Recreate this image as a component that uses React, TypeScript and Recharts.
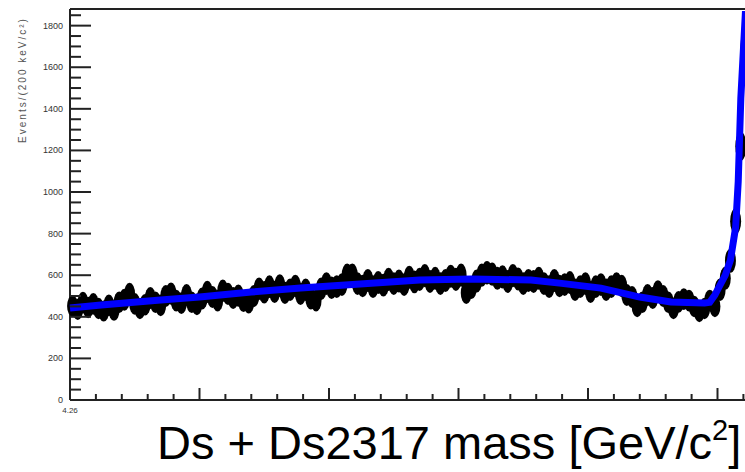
import { ComposedChart, Scatter, XAxis, YAxis, ReferenceLine } from "recharts";

// invariant mass histogram, 0.2 MeV bins starting at 4.26 GeV
const MASS_START = 4.26;
const BIN_WIDTH = 0.0002;

const COUNTS = [
  452, 436, 468, 445, 462, 440, 428, 455, 432, 470,
  482, 510, 462, 440, 458, 490, 470, 455, 500, 512,
  478, 466, 505, 470, 460, 488, 520, 495, 478, 525,
  510, 490, 502, 475, 468, 500, 535, 518, 545, 520,
  550, 515, 530, 548, 510, 530, 488, 478, 535, 560,
  540, 545, 555, 600, 600, 560, 548, 575, 545, 565,
  552, 580, 560, 572, 555, 590, 568, 580, 598, 570,
  585, 560, 575, 595, 580, 600, 515, 540, 572, 600,
  612, 605, 585, 592, 570, 598, 582, 560, 575, 570,
  585, 560, 545, 575, 548, 555, 565, 530, 545, 560,
  520, 545, 555, 530, 545, 560, 548, 505, 495, 450,
  470, 505, 490, 522, 500, 470, 440, 472, 485, 478,
  450, 425, 440, 478, 450, 530, 585, 670, 860, 1220, 1700,
];

// fitted background + threshold curve
const FIT_MASS = [
  4.26, 4.2612, 4.2635, 4.265, 4.267, 4.2689, 4.2712, 4.2735, 4.2755, 4.2778,
  4.2789, 4.2805, 4.282, 4.2832, 4.2845, 4.2847, 4.2849, 4.2851, 4.2853, 4.2855,
  4.2857, 4.2858, 4.2859, 4.28608,
];
const FIT_COUNT = [
  442, 457, 481, 495, 519, 538, 558, 577, 582, 577,
  562, 538, 495, 471, 466, 470, 505, 553, 600, 673,
  830, 1050, 1450, 1870,
];

const X_TICKS = Array.from({ length: 31 }, (_, i) => +(4.26 + i * 0.001).toFixed(3));
const Y_TICKS = Array.from({ length: 38 }, (_, i) => i * 50);

const Y_MAX = 1880;
const CHART_H = 472;
const TOP = 9;
const X_AXIS_H = 72;
// pixels per event on the y axis, used to size the error blobs
const PX_PER_EVENT = (CHART_H - TOP - X_AXIS_H) / Y_MAX;

const points = COUNTS.map((n, i) => ({
  mass: +(MASS_START + BIN_WIDTH * (i + 0.5)).toFixed(5),
  count: n,
  err: Math.sqrt(n),
}));

const fit = FIT_MASS.map((m, i) => ({ mass: m, count: FIT_COUNT[i] }));

const AXIS = "#222";
const FONT = "'Liberation Sans', Arial, sans-serif";

function YTick({ x, y, payload }: any) {
  const v = payload.value;
  const major = v % 200 === 0;
  return (
    <g>
      <line x1={x} x2={x + (major ? 21 : 11)} y1={y} y2={y} stroke={AXIS} strokeWidth={2} />
      {major && (
        <text x={x - 7} y={y + 3} textAnchor="end" fontSize={9} fill="#333" fontFamily={FONT}>
          {v}
        </text>
      )}
    </g>
  );
}

function XTick({ x, y, payload, index }: any) {
  const step = Math.round((payload.value - 4.26) / 0.001);
  const major = step % 5 === 0;
  return (
    <g>
      <line x1={x} x2={x} y1={y} y2={y - (major ? 12 : 6)} stroke={AXIS} strokeWidth={2} />
      {index === 0 && (
        <text x={x} y={y + 13} textAnchor="middle" fontSize={8} fill="#333" fontFamily={FONT}>
          4.26
        </text>
      )}
    </g>
  );
}

// filled marker stretched by its statistical error
const Marker = ({ cx, cy, payload }: any) => {
  const e = payload.err * PX_PER_EVENT;
  return <ellipse cx={cx} cy={cy} rx={5.5} ry={1.3 * e + 5} fill="#000" />;
};

const NoMarker = () => <g />;

export default function App() {
  return (
    <div
      style={{
        position: "fixed",
        left: 0,
        top: 0,
        width: 745,
        height: 472,
        overflow: "hidden",
        background: "#fff",
      }}
    >
      <ComposedChart
        width={847}
        height={CHART_H}
        margin={{ top: TOP, right: 0, left: 0, bottom: 0 }}
      >
        <XAxis
          type="number"
          dataKey="mass"
          domain={[4.26, 4.29]}
          ticks={X_TICKS}
          interval={0}
          height={X_AXIS_H}
          tickSize={0}
          tickMargin={0}
          tick={<XTick />}
          axisLine={{ stroke: AXIS, strokeWidth: 2 }}
        />
        <YAxis
          type="number"
          dataKey="count"
          domain={[0, Y_MAX]}
          ticks={Y_TICKS}
          interval={0}
          width={70}
          tickSize={0}
          tickMargin={0}
          tick={<YTick />}
          axisLine={{ stroke: AXIS, strokeWidth: 2 }}
        />
        <ReferenceLine y={Y_MAX} stroke={AXIS} strokeWidth={2} />
        <Scatter data={points} dataKey="count" fill="#000" shape={<Marker />} isAnimationActive={false} />
        {/* fit curve drawn as a joined scatter so it sits above the markers */}
        <Scatter
          data={fit}
          dataKey="count"
          shape={<NoMarker />}
          line={{ stroke: "#0000ff", strokeWidth: 7, fill: "none" }}
          lineType="joint"
          isAnimationActive={false}
        />
      </ComposedChart>
      <svg
        width={745}
        height={472}
        style={{ position: "absolute", left: 0, top: 0, pointerEvents: "none" }}
      >
        <text
          transform="translate(26,80) rotate(-90)"
          textAnchor="middle"
          fontSize={10}
          letterSpacing={2}
          fill="#555"
          fontFamily={FONT}
        >
          Events/(200 keV/c²)
        </text>
        <text x={157} y={459} fontSize={47} fill="#000" fontFamily={FONT}>
          Ds + Ds2317 mass [GeV/c
          <tspan fontSize={29} dy={-19}>2</tspan>
          <tspan dy={19}>]</tspan>
        </text>
      </svg>
    </div>
  );
}
